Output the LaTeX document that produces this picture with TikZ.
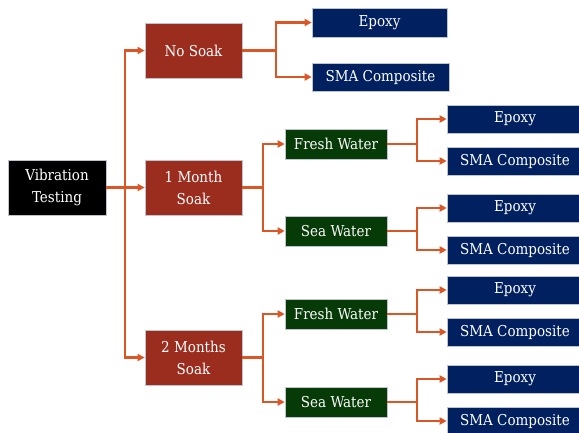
\documentclass[tikz,border=0pt]{standalone}
\usepackage{fontspec}
\setmainfont{DejaVu Serif Condensed}
\usetikzlibrary{arrows.meta,calc}
\definecolor{soakred}{HTML}{9B2D1F}
\definecolor{watergreen}{HTML}{063A06}
\definecolor{matblue}{HTML}{002060}
\definecolor{conncol}{HTML}{DC5525}
\definecolor{edgegray}{HTML}{BFC4CC}
\tikzset{
  box/.style={draw=edgegray, line width=0.6pt, text=white, align=center, inner sep=1pt, font=\fontsize{15}{22}\selectfont},
  bigbox/.style={box, minimum width=97pt, minimum height=55pt},
  rootbox/.style={bigbox, fill=black, minimum width=98pt},
  soakbox/.style={bigbox, fill=soakred},
  waterbox/.style={box, fill=watergreen, minimum width=102pt, minimum height=30pt},
  matbox/.style={box, fill=matblue, minimum width=136pt, minimum height=28pt},
  conn/.style={draw=conncol, line width=2.2pt, -{Triangle[length=7pt,width=7pt]}},
  plain/.style={draw=conncol, line width=2.2pt}
}
\begin{document}
\begin{tikzpicture}[x=1pt,y=-1pt]
\useasboundingbox (0,0) rectangle (579,432);
\clip (0,0) rectangle (579,432);
% root and soak levels
\node[rootbox] (vt) at (57,187.5) {Vibration\\Testing};
\node[soakbox] (ns) at (193.5,50.5) {No Soak};
\node[soakbox] (m1) at (193.5,187.5) {1 Month\\Soak};
\node[soakbox] (m2) at (193.5,357.5) {2 Months\\Soak};
% water level
\node[waterbox] (fw1) at (336,144) {Fresh Water};
\node[waterbox] (sw1) at (336,231) {Sea Water};
\node[waterbox] (fw2) at (336,314) {Fresh Water};
\node[waterbox] (sw2) at (336,402) {Sea Water};
% materials
\node[matbox, minimum width=135pt, minimum height=29pt] (nse) at (379.5,22.5) {Epoxy};
\node[matbox, minimum width=137pt] (nss) at (380.5,77) {SMA Composite};
\node[matbox] (fw1e) at (515,119) {Epoxy};
\node[matbox] (fw1s) at (515,161) {SMA Composite};
\node[matbox] (sw1e) at (515,208) {Epoxy};
\node[matbox] (sw1s) at (515,250) {SMA Composite};
\node[matbox] (fw2e) at (515,290) {Epoxy};
\node[matbox] (fw2s) at (515,332) {SMA Composite};
\node[matbox] (sw2e) at (515,379) {Epoxy};
\node[matbox] (sw2s) at (515,421) {SMA Composite};
% trunk
\coordinate (tr) at (125,187.5);
\draw[conn] (vt.east) -- (m1.west);
\draw[conn] (tr) |- (ns.west);
\draw[conn] (tr) |- (m2.west);
% branches
\coordinate (nsb) at ($(ns.east)+(34,0)$);
\draw[plain] (ns.east) -- (nsb);
\draw[conn] (nsb) |- (nse.west);
\draw[conn] (nsb) |- (nss.west);
\foreach \p/\a/\b/\d in {m1/fw1/sw1/21, m2/fw2/sw2/21, fw1/fw1e/fw1s/30, sw1/sw1e/sw1s/30, fw2/fw2e/fw2s/30, sw2/sw2e/sw2s/30}{
  \coordinate (\p b) at ($(\p.east)+(\d,0)$);
  \draw[plain] (\p.east) -- (\p b);
  \draw[conn] (\p b) |- (\a.west);
  \draw[conn] (\p b) |- (\b.west);
}
\end{tikzpicture}
\end{document}
